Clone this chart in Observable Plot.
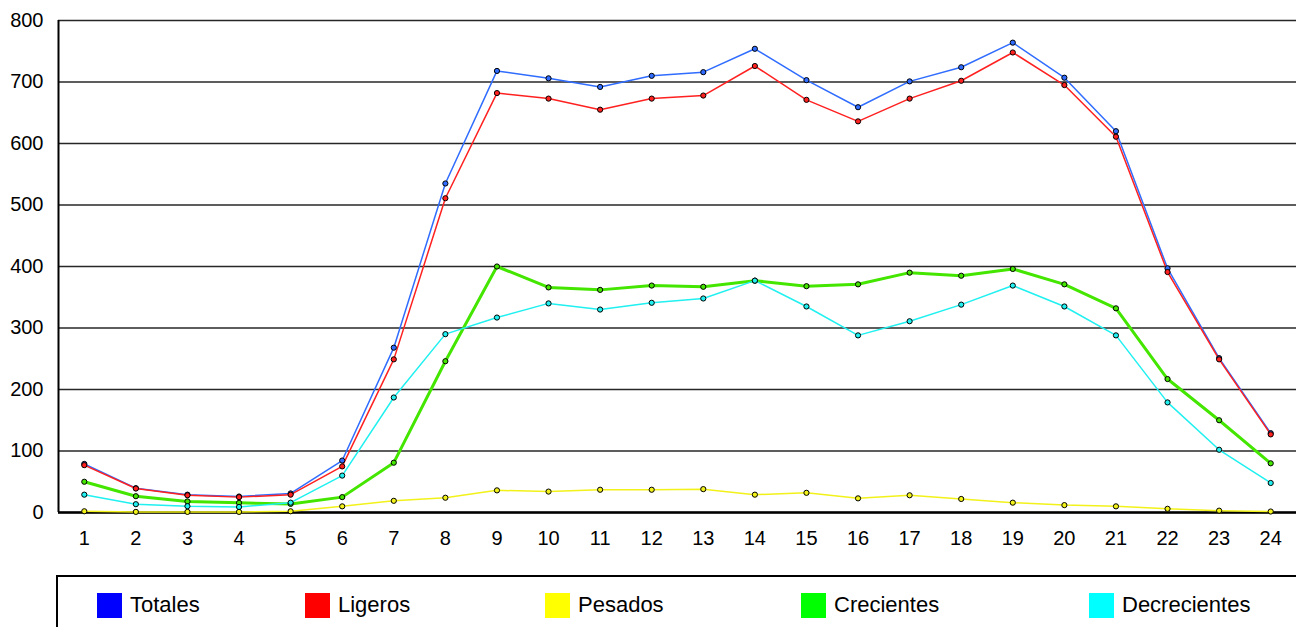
<!DOCTYPE html>
<html><head><meta charset="utf-8">
<script src="https://cdn.jsdelivr.net/npm/d3@7"></script>
<script src="https://cdn.jsdelivr.net/npm/@observablehq/plot@0.6"></script>
<style>
body{margin:0;overflow:hidden;background:#fff;font-family:"Liberation Sans",Arial,sans-serif}
#chart{position:absolute;left:0;top:0}
#legend{position:absolute;left:56px;top:575px;width:1300px;height:80px;border:2px solid #000;box-sizing:border-box}
.item{position:absolute;top:15px;display:flex;align-items:center}
.sw{width:25px;height:25px;margin-right:8px}
.lab{font-size:22px;color:#000}
</style></head>
<body>
<div id="chart"></div>
<div id="legend"></div>
<script>
const hours = [1,2,3,4,5,6,7,8,9,10,11,12,13,14,15,16,17,18,19,20,21,22,23,24];
const totales =      [79,39.5,29,26,31,84.5,268,535,718,706,692,710,716,754,703,659,701,724,764,707,620,397,251,129];
const ligeros =      [77,39,28,25,29,75,249,511,682,673,655,673,678,726,671,636,673,702,748,695,611,391,249,127];
const pesados =      [2,1,1,1,2,10,19,24,36,34,37,37,38,29,32,23,28,22,16,12,10,6,3,1.6];
const crecientes =   [50,26.5,18,15.7,14,25,81,246,400,366,362,369,367,377,368,371,390,385,396,371,332,217,150,80];
const decrecientes = [29,13.5,10.3,9,16,60,187,290,317,340,330,341,348,377,335,288,311,338,369,335,288,179,102,48];
const seriesNames = ["Totales","Ligeros","Pesados","Crecientes","Decrecientes"];
const seriesValues = [totales, ligeros, pesados, crecientes, decrecientes];
const yTicks = [0,100,200,300,400,500,600,700,800];

const lineColors = ["#2f6cff","#ff2020","#f2f21a","#44e600","#20f0f0"];
const swatchColors = ["#0000ff","#ff0000","#ffff00","#00ff00","#00ffff"];
const lineWidths = [1.5,1.5,1.5,3,1.5];

const marks = [
  Plot.gridY(yTicks, {stroke:"#000", strokeOpacity:0.85, strokeWidth:1.5}),
  Plot.axisY(yTicks, {tickSize:0, tickPadding:15, fontSize:20, fill:"#000"}),
  Plot.axisX(hours, {tickSize:0, tickPadding:18, fontSize:20, fill:"#000"}),
  Plot.ruleY([0], {stroke:"#000", strokeWidth:2.5}),
  Plot.ruleX([0.5], {stroke:"#000", strokeWidth:2}),
];
seriesNames.forEach((name, s) => {
  const data = hours.map((h, i) => ({hour:h, value:seriesValues[s][i]}));
  marks.push(Plot.line(data, {x:"hour", y:"value", stroke:lineColors[s], strokeWidth:lineWidths[s]}));
});
seriesNames.forEach((name, s) => {
  const data = hours.map((h, i) => ({hour:h, value:seriesValues[s][i]}));
  marks.push(Plot.dot(data, {x:"hour", y:"value", r:2.6, fill:lineColors[s], stroke:"#000", strokeWidth:1}));
});

const chart = Plot.plot({
  width:1296, height:560,
  marginLeft:58, marginRight:0, marginTop:20, marginBottom:48,
  x:{domain:[0.5,24.5], label:null},
  y:{domain:[0,800], label:null},
  style:{fontFamily:'"Liberation Sans",Arial,sans-serif', fontSize:"20px", background:"#fff", overflow:"visible"},
  marks
});
document.getElementById("chart").appendChild(chart);

const legendLefts = [39,247,487,743,1031];
const legend = document.getElementById("legend");
seriesNames.forEach((name, s) => {
  const it = document.createElement("div");
  it.className = "item";
  it.style.left = legendLefts[s] + "px";
  it.innerHTML = `<div class="sw" style="background:${swatchColors[s]}"></div><span class="lab">${name}</span>`;
  legend.appendChild(it);
});
</script>
</body></html>
